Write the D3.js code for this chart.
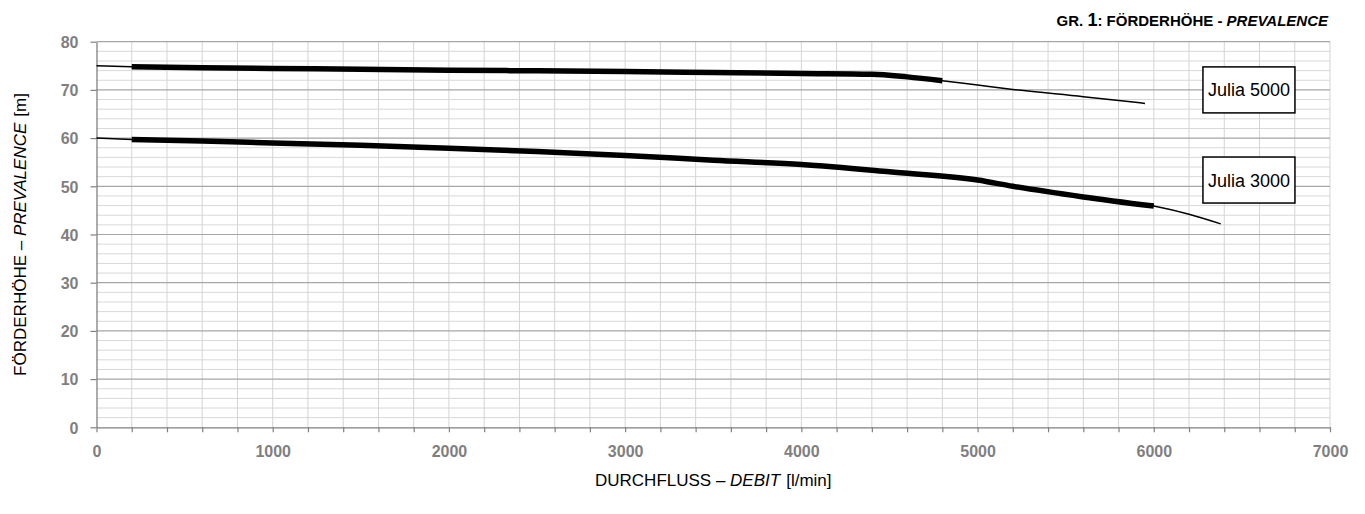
<!DOCTYPE html>
<html>
<head>
<meta charset="utf-8">
<script src="https://cdn.jsdelivr.net/npm/d3@7"></script>
<style>
  body { margin: 0; background: #fff; }
  svg { display: block; }
</style>
</head>
<body>
<svg id="drawing_region"></svg>
<script>

// pump curves: flow [l/min] -> head [m]
const flow5000 = [0, 200, 600, 1000, 1500, 2000, 2500, 3000, 3500, 4000, 4400, 4600, 4800, 5000, 5200, 5600, 5950];
const head5000 = [75.0, 74.8, 74.6, 74.45, 74.3, 74.1, 73.95, 73.8, 73.6, 73.4, 73.25, 72.7, 71.9, 71.0, 70.1, 68.6, 67.2];
const range5000 = [200, 4800];

const flow3000 = [0, 200, 600, 1000, 1500, 2000, 2500, 3000, 3500, 4000, 4500, 5000, 5200, 5600, 6000, 6200, 6380];
const head3000 = [60.0, 59.7, 59.4, 59.0, 58.5, 57.9, 57.2, 56.4, 55.4, 54.5, 53.0, 51.3, 50.0, 47.8, 45.9, 44.2, 42.2];
const range3000 = [200, 6000];

const seriesNames = ['Julia 5000', 'Julia 3000'];
const labelAt = [[6540, 70.0], [6540, 51.3]];

const xTickLabels = [0, 1000, 2000, 3000, 4000, 5000, 6000, 7000];
const yTickLabels = [0, 10, 20, 30, 40, 50, 60, 70, 80];


const config = {
    width: 1365,
    height: 514,
    margin: {top: 41.7, right: 35, bottom: 86.7, left: 96.5}
};

const svg = d3.select('#drawing_region')
    .attr('width', config.width)
    .attr('height', config.height);

const inner_width = config.width - config.margin.left - config.margin.right;
const inner_height = config.height - config.margin.top - config.margin.bottom;

const chart = svg.append('g')
    .attr('transform', `translate(${config.margin.left}, ${config.margin.top})`);

const xscale = d3.scaleLinear()
    .domain([0, 7000])
    .range([0, inner_width]);

const yscale = d3.scaleLinear()
    .domain([0, 80])
    .range([inner_height, 0]);

// grid: minor every 2 m, verticals every 200 l/min, major every 10 m
chart.append('g')
    .selectAll('line')
    .data(d3.range(0, 81, 2).filter(v => v % 10 != 0))
    .enter().append('line')
    .attr('x1', 0).attr('x2', inner_width)
    .attr('y1', d => yscale(d)).attr('y2', d => yscale(d))
    .attr('stroke', '#d8d8d8').attr('stroke-width', 1);

chart.append('g')
    .selectAll('line')
    .data(d3.range(200, 7001, 200))
    .enter().append('line')
    .attr('x1', d => xscale(d)).attr('x2', d => xscale(d))
    .attr('y1', 0).attr('y2', inner_height)
    .attr('stroke', '#d4d4d4').attr('stroke-width', 1);

chart.append('g')
    .selectAll('line')
    .data(yTickLabels.filter(v => v > 0))
    .enter().append('line')
    .attr('x1', 0).attr('x2', inner_width)
    .attr('y1', d => yscale(d)).attr('y2', d => yscale(d))
    .attr('stroke', '#a6a6a6').attr('stroke-width', 1.2);

// axes
const xaxis = d3.axisBottom(xscale)
    .tickValues(d3.range(0, 7001, 200))
    .tickSize(5)
    .tickSizeOuter(0)
    .tickFormat(d => xTickLabels.includes(d) ? d : '');

const yaxis = d3.axisLeft(yscale)
    .tickValues(yTickLabels)
    .tickSize(6)
    .tickSizeOuter(0)
    .tickPadding(12);

const xaxis_group = chart.append('g')
    .attr('transform', `translate(0, ${inner_height})`)
    .call(xaxis);

const yaxis_group = chart.append('g')
    .call(yaxis);

[xaxis_group, yaxis_group].forEach(g => {
    g.select('.domain').attr('stroke', '#808080').attr('stroke-width', 1.3);
    g.selectAll('.tick line').attr('stroke', '#808080').attr('stroke-width', 1.2);
    g.selectAll('.tick text')
        .attr('fill', '#7f7f7f')
        .style('font-family', '"Liberation Sans", Arial, sans-serif')
        .style('font-weight', 'bold')
        .style('font-size', '16px');
});
xaxis_group.selectAll('.tick text').attr('dy', '1.35em');
yaxis_group.selectAll('.tick text').attr('dy', '0.36em');

// curves: thin full curve, thick over the working range
const line = d3.line()
    .x(d => xscale(d[0]))
    .y(d => yscale(d[1]))
    .curve(d3.curveMonotoneX);

const curves = [
    {flow: flow5000, head: head5000, range: range5000},
    {flow: flow3000, head: head3000, range: range3000}
];

curves.forEach(c => {
    const pts = c.flow.map((f, i) => [f, c.head[i]]);
    const work = pts.filter(p => p[0] >= c.range[0] && p[0] <= c.range[1]);

    chart.append('path')
        .datum(pts)
        .attr('d', line)
        .attr('fill', 'none')
        .attr('stroke', '#000')
        .attr('stroke-width', 1.5);

    chart.append('path')
        .datum(work)
        .attr('d', line)
        .attr('fill', 'none')
        .attr('stroke', '#000')
        .attr('stroke-width', 5.5);
});

// series labels in boxes
seriesNames.forEach((name, i) => {
    const cx = xscale(labelAt[i][0]);
    const cy = yscale(labelAt[i][1]);
    chart.append('rect')
        .attr('x', cx - 46).attr('y', cy - 23)
        .attr('width', 92).attr('height', 46)
        .attr('fill', '#fff')
        .attr('stroke', '#000')
        .attr('stroke-width', 1.5);
    chart.append('text')
        .attr('x', cx).attr('y', cy)
        .attr('dy', '0.36em')
        .attr('text-anchor', 'middle')
        .style('font-family', '"Liberation Sans", Arial, sans-serif')
        .style('font-size', '18px')
        .text(name);
});

// title
const title = svg.append('text')
    .attr('x', config.margin.left + inner_width - 2)
    .attr('y', 26)
    .attr('text-anchor', 'end')
    .style('font-family', '"Liberation Sans", Arial, sans-serif')
    .style('font-weight', 'bold')
    .style('font-size', '15px');
title.append('tspan').text('GR. ');
title.append('tspan').style('font-size', '18px').text('1');
title.append('tspan').text(': FÖRDERHÖHE - ');
title.append('tspan').style('font-style', 'italic').text('PREVALENCE');

// axis titles
const xtitle = svg.append('text')
    .attr('x', config.margin.left + inner_width / 2)
    .attr('y', 486)
    .attr('text-anchor', 'middle')
    .style('font-family', '"Liberation Sans", Arial, sans-serif')
    .style('font-size', '17px');
xtitle.append('tspan').text('DURCHFLUSS – ');
xtitle.append('tspan').style('font-style', 'italic').text('DEBIT');
xtitle.append('tspan').attr('dx', 6).text('[l/min]');

const ytitle = svg.append('text')
    .attr('transform', `translate(26, ${config.margin.top + inner_height / 2}) rotate(-90)`)
    .attr('text-anchor', 'middle')
    .style('font-family', '"Liberation Sans", Arial, sans-serif')
    .style('font-size', '17px');
ytitle.append('tspan').text('FÖRDERHÖHE – ');
ytitle.append('tspan').style('font-style', 'italic').text('PREVALENCE');
ytitle.append('tspan').attr('dx', 6).text('[m]');

</script>
</body>
</html>
